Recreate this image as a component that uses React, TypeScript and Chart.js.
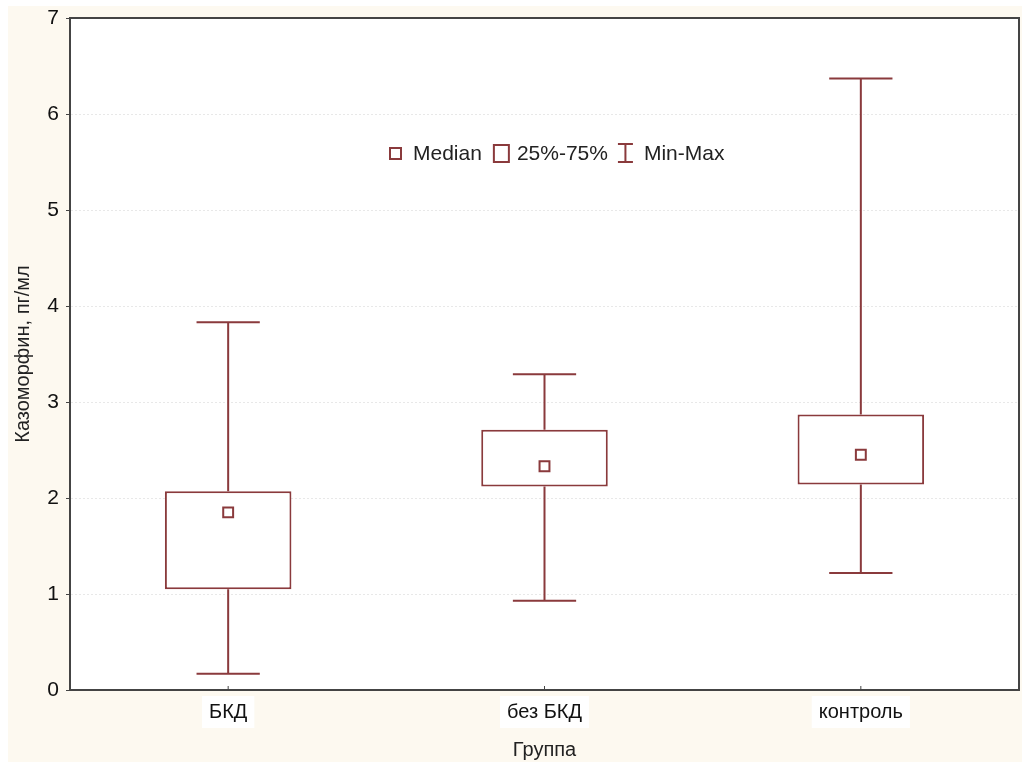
import React, { useEffect, useRef } from "react";
import { Chart, registerables } from "chart.js";
Chart.register(...registerables);

const groups = ["БКД", "без БКД", "контроль"];
const minValues = [0.17, 0.93, 1.22];
const q1Values = [1.05, 2.12, 2.14];
const medianValues = [1.85, 2.33, 2.45];
const q3Values = [2.07, 2.71, 2.87];
const maxValues = [3.83, 3.29, 6.37];
const yMin = 0;
const yMax = 7;
const legendLabels = ["Median", "25%-75%", "Min-Max"];
const xTitle = "Группа";
const yTitle = "Казоморфин, пг/мл";

const MAROON = "#8a3a3c";
const FONT = "'Liberation Sans', Arial, sans-serif";

const plotBg = {
  id: "plotBg",
  beforeDraw(chart: any) {
    const { ctx, chartArea: a } = chart;
    ctx.save();
    ctx.fillStyle = "#ffffff";
    ctx.fillRect(a.left, a.top, a.right - a.left, a.bottom - a.top);
    ctx.restore();
  },
};

const whiskers = {
  id: "whiskers",
  afterDatasetsDraw(chart: any) {
    const { ctx, scales } = chart;
    const x = scales.x;
    const y = scales.y;
    const cw = x.getPixelForValue(1) - x.getPixelForValue(0);
    const half = cw * 0.1;
    ctx.save();
    ctx.strokeStyle = MAROON;
    ctx.lineWidth = 2;
    groups.forEach((_, i) => {
      const px = x.getPixelForValue(i);
      const pMin = y.getPixelForValue(minValues[i]);
      const pMax = y.getPixelForValue(maxValues[i]);
      const pQ1 = y.getPixelForValue(q1Values[i]);
      const pQ3 = y.getPixelForValue(q3Values[i]);
      ctx.beginPath();
      ctx.moveTo(px, pQ1);
      ctx.lineTo(px, pMin);
      ctx.moveTo(px, pQ3);
      ctx.lineTo(px, pMax);
      ctx.moveTo(px - half, pMin);
      ctx.lineTo(px + half, pMin);
      ctx.moveTo(px - half, pMax);
      ctx.lineTo(px + half, pMax);
      ctx.stroke();
    });
    ctx.restore();
  },
};

const frame = {
  id: "frame",
  afterDraw(chart: any) {
    const { ctx, chartArea: a, scales } = chart;
    ctx.save();
    ctx.strokeStyle = "#444444";
    ctx.lineWidth = 2;
    ctx.beginPath();
    ctx.moveTo(a.left, a.top);
    ctx.lineTo(a.right, a.top);
    ctx.lineTo(a.right, a.bottom);
    ctx.stroke();
    ctx.lineWidth = 1;
    groups.forEach((_, i) => {
      const px = scales.x.getPixelForValue(i);
      ctx.beginPath();
      ctx.moveTo(px, a.bottom);
      ctx.lineTo(px, a.bottom - 4);
      ctx.stroke();
    });
    ctx.restore();
  },
};

const legendPlugin = {
  id: "boxLegend",
  afterDraw(chart: any) {
    const { ctx, chartArea: a } = chart;
    const cy = a.top + 135;
    let x = a.left + 320;
    ctx.save();
    ctx.font = `21px ${FONT}`;
    ctx.textBaseline = "middle";
    ctx.fillStyle = "#222222";
    ctx.strokeStyle = MAROON;
    ctx.lineWidth = 2;
    ctx.strokeRect(x, cy - 5, 11, 11);
    x += 23;
    ctx.fillText(legendLabels[0], x, cy + 1);
    x += ctx.measureText(legendLabels[0]).width + 12;
    ctx.strokeRect(x, cy - 8, 15, 17);
    x += 23;
    ctx.fillText(legendLabels[1], x, cy + 1);
    x += ctx.measureText(legendLabels[1]).width + 10;
    ctx.beginPath();
    ctx.moveTo(x, cy - 9);
    ctx.lineTo(x + 15, cy - 9);
    ctx.moveTo(x + 7.5, cy - 9);
    ctx.lineTo(x + 7.5, cy + 9);
    ctx.moveTo(x, cy + 9);
    ctx.lineTo(x + 15, cy + 9);
    ctx.stroke();
    x += 26;
    ctx.fillText(legendLabels[2], x, cy + 1);
    ctx.restore();
  },
};

export default function App() {
  const ref = useRef<HTMLCanvasElement | null>(null);
  useEffect(() => {
    if (!ref.current) return;
    const chart = new Chart(ref.current, {
      type: "bar",
      data: {
        labels: groups,
        datasets: [
          {
            type: "bar",
            label: "25%-75%",
            data: groups.map((_, i) => [q1Values[i], q3Values[i]]) as any,
            backgroundColor: "#ffffff",
            borderColor: MAROON,
            borderWidth: 2,
            borderSkipped: false,
            barPercentage: 0.4,
            categoryPercentage: 1,
            order: 2,
          },
          {
            type: "line",
            label: "Median",
            data: medianValues,
            showLine: false,
            pointStyle: "rect",
            pointRadius: 7,
            pointBorderWidth: 2,
            pointBackgroundColor: "#ffffff",
            pointBorderColor: MAROON,
            order: 1,
          } as any,
        ],
      },
      options: {
        animation: false,
        responsive: false,
        maintainAspectRatio: false,
        layout: { autoPadding: false, padding: { top: 0, right: 3, left: 0, bottom: 0 } } as any,
        plugins: { legend: { display: false }, tooltip: { enabled: false } },
        scales: {
          x: {
            grid: { display: false, drawTicks: false },
            border: { display: true, color: "#444444", width: 2 },
            ticks: {
              color: "#111111",
              font: { family: FONT, size: 20 },
              padding: 10,
              showLabelBackdrop: true,
              backdropColor: "#ffffff",
              backdropPadding: { x: 7, y: 4 },
            } as any,
            title: {
              display: true,
              text: xTitle,
              color: "#222222",
              font: { family: FONT, size: 20 },
              padding: { top: 0, bottom: 0 },
            },
            afterFit(scale: any) {
              scale.height = 72;
            },
          },
          y: {
            min: yMin,
            max: yMax,
            ticks: {
              stepSize: 1,
              color: "#111111",
              font: { family: FONT, size: 21 },
              padding: 7,
            },
            grid: {
              color: "#e8e8e8",
              tickColor: "#444444",
              tickLength: 4,
              lineWidth: 1,
            },
            border: { display: true, color: "#444444", width: 2, dash: [2, 2] } as any,
            title: {
              display: true,
              text: yTitle,
              color: "#222222",
              font: { family: FONT, size: 20 },
              padding: { top: 3, bottom: 0 },
            },
            afterFit(scale: any) {
              scale.width = 62;
              scale.paddingTop = 12;
            },
          },
        },
      },
      plugins: [plotBg, whiskers, frame, legendPlugin],
    });
    return () => chart.destroy();
  }, []);
  return (
    <div style={{ position: "fixed", top: 6, left: 8, width: 1014, height: 756, background: "#fdf9f0" }}>
      <canvas ref={ref} width={1014} height={756} style={{ display: "block" }} />
    </div>
  );
}
